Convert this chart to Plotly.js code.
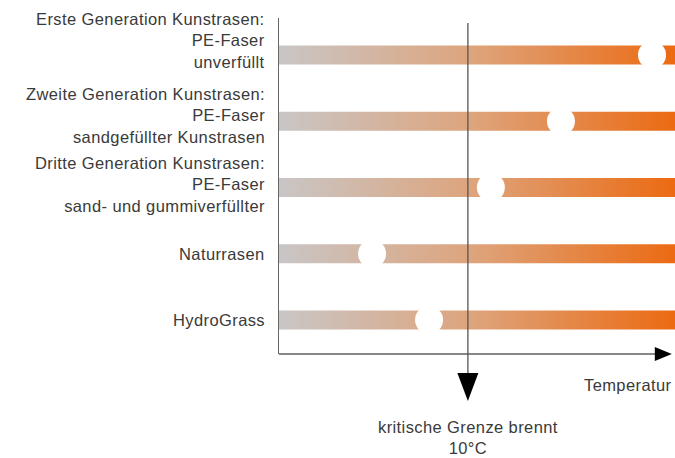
<!DOCTYPE html>
<html>
<head>
<meta charset="utf-8">
<script src="https://cdn.plot.ly/plotly-3.0.1.min.js"></script>
<style>html,body{margin:0;padding:0;background:#fff;}#chart{width:675px;height:458px;}
.annotation-text{letter-spacing:0.4px;}</style>
</head>
<body>
<div id="chart"></div>
<script>
// ---- data ----
const categories = [
  "Erste Generation Kunstrasen:<br>PE-Faser<br>unverfüllt",
  "Zweite Generation Kunstrasen:<br>PE-Faser<br>sandgefüllter Kunstrasen",
  "Dritte Generation Kunstrasen:<br>PE-Faser<br>sand- und gummiverfüllter",
  "Naturrasen",
  "HydroGrass"
];
const barStart = [0, 0, 0, 0, 0];
const barEnd = [100, 100, 100, 100, 100];
const markerValues = [94.2, 71.2, 53.5, 23.5, 37.9];   // relative temperature
const criticalValue = 47.7;
const criticalLabel = "kritische Grenze brennt<br>10°C";
const axisLabel = "Temperatur";

// ---- styling ----
const FONT = "Liberation Sans, Arial, sans-serif";
const TEXT = "#3a3a3a";
const FS = 16.5;
const gradient = [[0, "#c9c6c6"], [0.5, "#dea37a"], [1, "#ec6a12"]];
const halfH = 0.142;
const labelShift = [14, 6, 3, 0, 0];

const traces = [];
categories.forEach((c, i) => {
  traces.push({
    type: "scatter", mode: "lines",
    x: [barStart[i], barEnd[i], barEnd[i], barStart[i], barStart[i]],
    y: [i - halfH, i - halfH, i + halfH, i + halfH, i - halfH],
    fill: "toself",
    fillgradient: {type: "horizontal", colorscale: gradient, start: 0, stop: 100},
    line: {width: 0, color: "rgba(0,0,0,0)"},
    hoverinfo: "skip", showlegend: false
  });
});
traces.push({
  type: "scatter", mode: "markers",
  x: markerValues, y: categories.map((c, i) => i),
  marker: {size: 28, color: "#ffffff", line: {width: 0}},
  showlegend: false, hoverinfo: "skip", cliponaxis: false
});

const annotations = categories.map((c, i) => ({
  xref: "paper", yref: "y", x: 0, y: i, xanchor: "right", yanchor: "middle",
  xshift: -12, yshift: labelShift[i], text: c, showarrow: false, align: "right",
  font: {family: FONT, size: FS, color: TEXT}
}));
annotations.push({
  xref: "paper", yref: "paper", x: 0.992, y: -0.092, xanchor: "right", yanchor: "middle",
  xshift: 2, text: axisLabel, showarrow: false, font: {family: FONT, size: FS, color: TEXT}
});
annotations.push({
  xref: "x", yref: "paper", x: criticalValue, y: -0.255, xanchor: "center", yanchor: "middle",
  yshift: 2, text: criticalLabel, showarrow: false, align: "center",
  font: {family: FONT, size: FS, color: TEXT}
});

const pxX = 100 / 396, pxY = 1 / 336;
const shapes = [
  {type: "line", xref: "paper", yref: "paper", x0: 0, x1: 0.96, y0: 0, y1: 0,
   line: {color: "#111", width: 1.2}},
  {type: "path", xref: "paper", yref: "paper",
   path: `M ${0.992} 0 L ${0.992 - 17/396} ${7*pxY} L ${0.992 - 17/396} ${-7*pxY} Z`,
   fillcolor: "#000", line: {width: 0}},
  {type: "line", xref: "x", yref: "paper", x0: criticalValue, x1: criticalValue,
   y0: 1 - 5*pxY, y1: -20*pxY, line: {color: "#555", width: 1.3}},
  {type: "path", xref: "x", yref: "paper",
   path: `M ${criticalValue - 10.5*pxX} ${-19*pxY} L ${criticalValue + 10.5*pxX} ${-19*pxY} L ${criticalValue} ${-47*pxY} Z`,
   fillcolor: "#000", line: {width: 0}}
];

const layout = {
  width: 675, height: 458,
  margin: {l: 279, r: 0, t: 18, b: 104},
  paper_bgcolor: "#fff", plot_bgcolor: "#fff",
  xaxis: {range: [0, 100], showgrid: false, zeroline: false, showticklabels: false, ticks: "", showline: false, fixedrange: true},
  yaxis: {range: [4.513, -0.558], showgrid: false, zeroline: false, showticklabels: false, ticks: "",
          showline: true, linecolor: "#666", linewidth: 1.5, fixedrange: true},
  annotations: annotations,
  shapes: shapes,
  showlegend: false
};

Plotly.newPlot("chart", traces, layout, {displayModeBar: false, staticPlot: true});
</script>
</body>
</html>
